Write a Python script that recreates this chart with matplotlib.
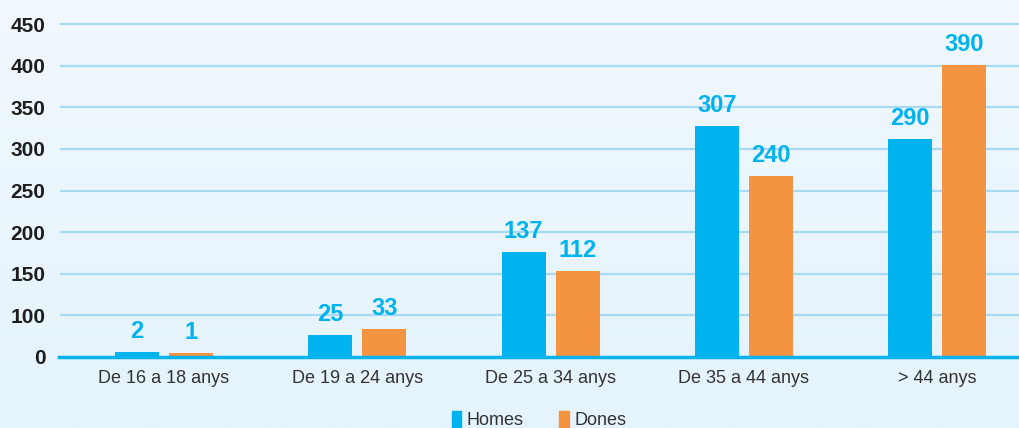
import numpy as np
import matplotlib
matplotlib.use("Agg")
import matplotlib.pyplot as plt
from matplotlib.patches import Patch
from matplotlib.lines import Line2D
from matplotlib.colors import LinearSegmentedColormap

categories = ["De 16 a 18 anys", "De 19 a 24 anys", "De 25 a 34 anys",
              "De 35 a 44 anys", "> 44 anys"]
homes = [2, 25, 137, 307, 290]
dones = [1, 33, 112, 240, 390]
series_names = ["Homes", "Dones"]
ytick_labels = ["0", "100", "150", "200", "250", "300", "350", "400", "450"]

BLUE = "#00b2ee"
ORANGE = "#f49340"
GRID = "#a8dbf3"

plt.rcParams['font.family'] = ['Liberation Sans', 'DejaVu Sans']

W, H = 1020, 428
fig = plt.figure(figsize=(W / 100, H / 100), dpi=100)

# background gradient
bg = fig.add_axes([0, 0, 1, 1], zorder=-10)
cmap = LinearSegmentedColormap.from_list("bg", ["#f1f8fe", "#e4f3fc"])
bg.imshow(np.linspace(0, 1, 256).reshape(-1, 1), aspect="auto", cmap=cmap,
          extent=[0, 1, 0, 1])
bg.axis("off")

rect = [60 / W, 71 / H, 960 / W, 357 / H]

# grid / y-label layer (evenly spaced labelled gridlines)
axg = fig.add_axes(rect, zorder=0)
axg.set_facecolor("none")
grid_step_px = 41.6
axg.set_ylim(0, 357 / grid_step_px)
axg.set_yticks(np.arange(len(ytick_labels)))
axg.set_yticklabels(ytick_labels, fontsize=15, fontweight="bold", color="#1e1e1e")
axg.tick_params(axis="y", length=0, pad=10.5)
axg.set_xticks([])
for i in range(1, len(ytick_labels)):
    axg.axhline(i, color=GRID, lw=1.6, zorder=0)
for s in axg.spines.values():
    s.set_visible(False)

# bar layer: bars rise from the baseline with a small visible foot
ax = fig.add_axes(rect, zorder=1)
ax.set_facecolor("none")
px_per_unit = 0.740
foot = 3.5 / px_per_unit
ax.set_ylim(-foot, 357 / px_per_unit - foot)
spacing = 193.3
ax.set_xlim((60 - 164) / spacing, (1020 - 164) / spacing)
x = np.arange(len(categories))
bw = 44 / spacing
off = 27 / spacing
hv = np.array(homes, dtype=float)
dv = np.array(dones, dtype=float)
b1 = ax.bar(x - off, hv + foot, bw, bottom=-foot, color=BLUE, zorder=2)
b2 = ax.bar(x + off, dv + foot, bw, bottom=-foot, color=ORANGE, zorder=2)
for xs, vals in ((x - off, homes), (x + off, dones)):
    for xi, v in zip(xs, vals):
        ax.annotate(str(v), (xi, v),
                    xytext=(0, 6.5), textcoords="offset points", ha="center",
                    va="bottom", fontsize=17, fontweight="bold", color=BLUE)
ax.set_yticks([])
ax.set_xticks(x)
ax.set_xticklabels(categories, fontsize=13, color="#333333")
ax.tick_params(axis="x", length=0, pad=9.5)
for s in ax.spines.values():
    s.set_visible(False)

# baseline drawn over the bars
fig.add_artist(Line2D([59 / W, 1], [70.7 / H, 70.7 / H], color=BLUE, lw=2.5,
                      transform=fig.transFigure, zorder=5))

handles = [Patch(color=BLUE, label=series_names[0]),
           Patch(color=ORANGE, label=series_names[1])]
fig.legend(handles=handles, loc="center", bbox_to_anchor=(539 / W, 8 / H),
           ncol=2, frameon=False, fontsize=13, handlelength=0.55,
           handleheight=1.1, handletextpad=0.3, columnspacing=1.95,
           borderpad=0, labelcolor="#333333")

fig.savefig("out.png", dpi=100)
